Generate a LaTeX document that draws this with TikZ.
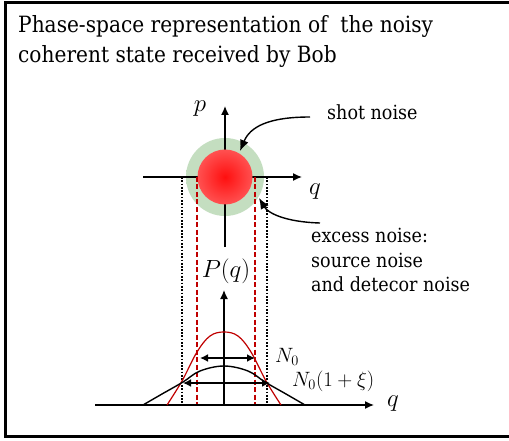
\documentclass[tikz,border=0pt]{standalone}
\usepackage{fontspec}
\setmainfont{DejaVu Serif Condensed}
\usetikzlibrary{arrows.meta}
\definecolor{haloG}{RGB}{196,222,192}
\definecolor{redC}{RGB}{255,15,15}
\definecolor{redE}{RGB}{255,120,120}
\definecolor{dashRed}{RGB}{192,0,0}
\pgfdeclareradialshading{halo}{\pgfpointorigin}{color(0bp)=(haloG); color(35bp)=(haloG); color(50bp)=(white)}
\pgfdeclareradialshading{reddisc}{\pgfpointorigin}{color(0bp)=(redC); color(40bp)=(redE); color(50bp)=(redE!85!haloG)}
\tikzset{
  axis/.style={line width=1.4pt, -{Latex[length=9pt,width=8pt]}},
  dblarrow/.style={line width=2pt, {Latex[length=8pt,width=8pt]}-{Latex[length=8pt,width=8pt]}},
  redline/.style={dashRed, line width=1.8pt, dash pattern=on 5pt off 2.5pt},
  dotline/.style={black, line width=1.7pt, dash pattern=on 1.7pt off 1.6pt},
  curve/.style={line width=1.4pt},
  callout/.style={line width=1.4pt, -{Latex[length=11pt,width=9pt]}},
  txt/.style={font=\fontsize{19.5}{23}\selectfont, inner sep=0pt},
  ttl/.style={font=\fontsize{22.4}{26}\selectfont, inner sep=0pt},
  mlab/.style={font=\fontsize{30}{34}\selectfont, inner sep=0pt},
  mlabs/.style={font=\fontsize{22.5}{26}\selectfont, inner sep=0pt},
  mlabp/.style={font=\fontsize{26}{30}\selectfont, inner sep=0pt}
}
\begin{document}
\begin{tikzpicture}[x=1pt,y=-1pt]
\useasboundingbox (0,0) rectangle (509,441);
% frame
\draw[line width=3pt] (512,3) -- (5,3) -- (5,436) -- (512,436);
% title
\node[ttl, anchor=base west] (t1) at (18,33) {Phase-space representation of\ \ the noisy};
\node[ttl, anchor=base west] (t2) at (18,63) {coherent state received by Bob};
% halo
\shade[shading=halo] (225,177) circle[radius=39pt];
% upper axes
\coordinate (qa0) at (143,177);
\coordinate (qa1) at (302,177);
\coordinate (pa0) at (225,247);
\coordinate (pa1) at (225,106);
\draw[axis] (qa0) -- (qa1);
\draw[axis] (pa0) -- (pa1);
% red disc
\shade[shading=reddisc] (225,177) circle[radius=27.5pt];
% vertical guide lines
\coordinate (dl0) at (182,177); \coordinate (dl1) at (182,405);
\coordinate (dr0) at (267,177); \coordinate (dr1) at (267,405);
\coordinate (rl0) at (197,177); \coordinate (rl1) at (197,405);
\coordinate (rr0) at (255,177); \coordinate (rr1) at (255,405);
\draw[dotline] (dl0) -- (dl1);
\draw[dotline] (dr0) -- (dr1);
\draw[redline] (rl0) -- (rl1);
\draw[redline] (rr0) -- (rr1);
% lower axes
\coordinate (Qa0) at (95,405);
\coordinate (Qa1) at (374,405);
\coordinate (Pa0) at (224,405);
\coordinate (Pa1) at (224,290);
\draw[axis] (Qa0) -- (Qa1);
\draw[axis] (Pa0) -- (Pa1);
% distributions
\draw[dashRed, line width=1.2pt] plot[smooth, tension=0.6] coordinates {(167,405) (182,381) (197,352) (210,336) (224,332) (238,336) (251,352) (266,381) (281,405)};
\draw[curve] plot[smooth, tension=0.6] coordinates {(143,405) (162,394) (183,382) (200,371) (224,366) (248,371) (265,382) (286,394) (305,405)};
% width arrows
\coordinate (n0a) at (200,358); \coordinate (n0b) at (255,358);
\coordinate (n1a) at (183,383); \coordinate (n1b) at (270,383);
\draw[dblarrow] (n0a) -- (n0b);
\draw[dblarrow] (n1a) -- (n1b);
% labels
\node[mlab, anchor=base] (plab) at (200,112) {$p$};
\node[mlab, anchor=base] (qlab) at (315,195) {$q$};
\node[mlab, anchor=base] (Qlab) at (393,406) {$q$};
\node[mlabp, anchor=base] (Pq) at (226,277) {$P(q)$};
\node[mlabs, anchor=base west] (N0) at (275,362) {$N_0$};
\node[mlabs, anchor=base west] (N1) at (292,386) {$N_0(1+\xi)$};
\node[txt, anchor=base west] (shot) at (327,120) {shot noise};
\node[txt, anchor=base west] (ex1) at (311,242) {excess noise:};
\node[txt, anchor=base west] (ex2) at (311,267) {source noise};
\node[txt, anchor=base west] (ex3) at (311,291) {and detecor noise};
% callouts
\coordinate (s0) at (310,117); \coordinate (s1) at (240,151);
\coordinate (e0) at (320,223); \coordinate (e1) at (259,198);
\draw[callout] (s0) .. controls (268,117) and (250,127) .. (s1);
\draw[callout] (e0) .. controls (285,222) and (268,213) .. (e1);
\end{tikzpicture}
\end{document}
